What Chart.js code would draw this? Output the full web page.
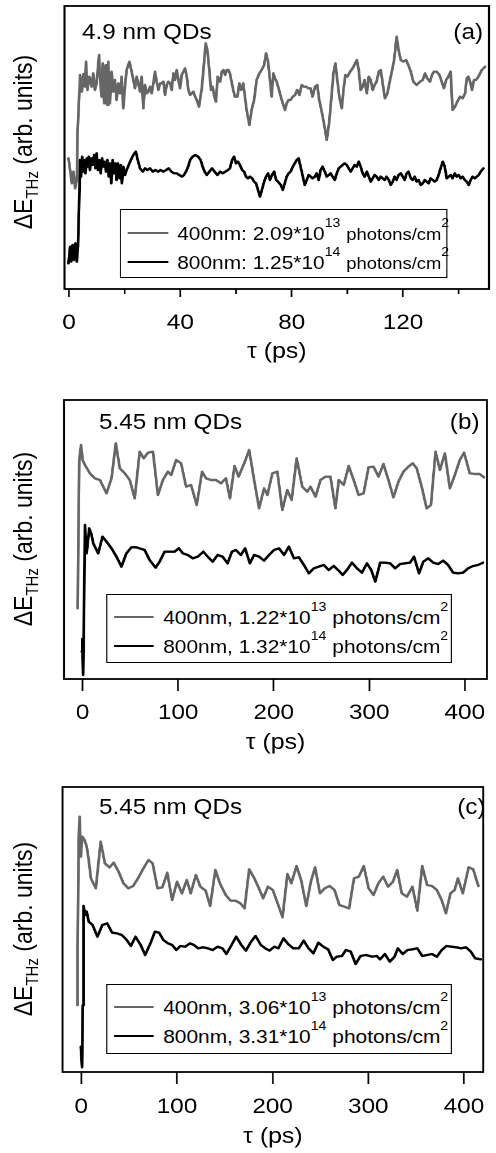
<!DOCTYPE html>
<html>
<head>
<meta charset="utf-8">
<script src="https://cdn.jsdelivr.net/npm/chart.js@4.4.1/dist/chart.umd.min.js"></script>
<style>
  html, body { margin: 0; padding: 0; background: #fff; overflow: hidden; }
  #page {
    position: absolute; left: 0; top: 0; width: 439px; height: 1153px;
    transform: scaleX(1.12984); transform-origin: 0 0;
    font-family: 'Liberation Sans', Arial, sans-serif; color: #000;
  }
  .panel { position: absolute; left: 0; width: 439px; }
  .panel canvas { position: absolute; left: 0; top: 0; }
  .tag { position: absolute; font-size: 21.5px; line-height: 21.5px; white-space: nowrap; }
  .ytitle {
    position: absolute; font-size: 23px; line-height: 23px; white-space: nowrap;
    transform: translate(-50%, -50%) rotate(-90deg);
  }
  .ytitle sub { font-size: 15px; vertical-align: baseline; position: relative; top: 5px; }
  .legend { position: absolute; box-sizing: border-box; border: 1.5px solid #000; background: #fff; }
  .legend .row { position: absolute; left: 0; right: 0; height: 30px; line-height: 30px; font-size: 18.5px; white-space: nowrap; }
  .legend .swatch { position: absolute; top: 13.8px; height: 0; border-top: 2.4px solid; }
  .legend .txt { position: absolute; top: 0; }
  .legend sup { font-size: 12.5px; vertical-align: baseline; position: relative; top: -13px; }
</style>
</head>
<body>
<div id="page">
  <div class="panel" style="top:0;height:370px"><canvas id="chartA" width="439" height="370"></canvas></div>
  <div class="panel" style="top:370px;height:390px"><canvas id="chartB" width="439" height="390"></canvas></div>
  <div class="panel" style="top:760px;height:393px"><canvas id="chartC" width="439" height="393"></canvas></div>
</div>
<script>
// ---- time axis (ps) and THz transient (arb. units), pairs of [tau, dE] ----
const pumpA400 = [[-0.2,39.2],[0.4,35.7],[1.0,31.7],[1.6,35.2],[2.2,30.2],[2.8,32.7],[3.1,47.7],[4.0,64.2],[4.6,59.2],[5.2,64.5],[5.8,60.7],[6.1,68.2],[6.6,59.7],[7.3,63.7],[8.1,60.7],[8.7,64.7],[9.3,59.7],[9.9,61.7],[10.8,70.2],[11.1,63.7],[11.7,57.7],[12.1,67.7],[12.6,55.7],[12.9,66.7],[13.3,67.2],[13.8,55.2],[14.1,68.2],[14.7,55.7],[15.3,65.2],[15.9,59.2],[16.5,62.7],[17.1,56.7],[17.7,61.7],[18.3,58.7],[18.9,63.7],[19.5,54.2],[20.1,60.7],[20.7,65.7],[21.7,68.2],[22.5,65.2],[23.1,62.7],[23.7,60.2],[24.3,63.7],[24.9,61.7],[25.5,59.2],[26.1,63.7],[26.7,54.2],[27.3,61.2],[27.9,58.7],[28.5,59.2],[29.1,60.7],[29.7,58.7],[30.3,61.7],[30.9,65.2],[31.5,62.2],[32.1,59.7],[32.7,61.7],[33.3,61.7],[33.9,62.2],[34.5,58.2],[35.1,61.2],[35.7,62.2],[36.3,61.7],[36.9,59.7],[37.5,64.7],[38.1,62.7],[38.7,65.7],[39.3,62.7],[39.9,60.2],[40.5,64.2],[41.1,65.2],[41.7,66.2],[42.3,63.7],[42.9,59.7],[43.5,58.2],[44.1,58.7],[44.7,59.2],[45.3,57.7],[45.9,56.7],[46.7,54.7],[47.7,60.2],[48.5,67.7],[49.1,73.7],[49.7,71.7],[50.4,65.7],[51.0,59.7],[51.6,60.7],[52.2,57.7],[52.8,56.2],[53.4,63.7],[54.3,62.2],[54.9,65.2],[55.5,65.7],[56.1,64.2],[56.7,65.7],[57.3,65.7],[57.8,64.7],[58.4,62.2],[59.0,59.7],[59.6,57.7],[60.5,57.7],[61.2,61.7],[61.9,59.7],[62.6,61.7],[63.8,53.7],[64.8,49.2],[65.6,53.7],[66.5,56.7],[67.4,62.7],[68.4,64.7],[69.2,65.7],[70.1,67.2],[70.8,70.7],[71.5,68.2],[72.2,62.7],[72.8,57.7],[73.4,64.7],[74.0,63.2],[74.6,62.2],[75.3,60.2],[76.1,57.7],[76.8,55.7],[77.6,53.7],[78.2,55.7],[78.9,56.7],[79.6,56.7],[80.4,57.7],[81.2,58.2],[82.0,59.7],[82.8,58.2],[83.6,61.2],[84.4,60.7],[85.2,60.7],[86.0,60.2],[86.8,60.2],[87.5,57.7],[88.4,60.7],[89.2,61.2],[89.9,56.7],[90.8,53.2],[91.6,49.7],[92.6,44.7],[93.5,50.2],[94.3,57.7],[95.0,64.7],[95.7,67.7],[96.4,62.7],[97.1,57.7],[98.0,54.2],[98.6,59.7],[99.3,64.2],[100.0,63.7],[101.0,65.2],[101.9,66.2],[102.8,67.7],[103.4,68.7],[104.1,65.7],[104.8,59.7],[105.5,60.7],[106.2,62.7],[107.0,58.7],[107.7,63.7],[108.4,62.7],[109.1,59.7],[109.8,61.2],[110.5,62.2],[111.3,65.2],[112.0,65.7],[112.7,61.7],[113.5,57.2],[114.4,58.7],[115.1,61.7],[116.1,65.7],[116.8,68.7],[117.7,75.7],[118.4,71.7],[119.2,68.7],[120.1,68.2],[121.1,68.7],[121.9,67.2],[122.8,65.2],[123.7,62.2],[124.9,61.2],[126.1,62.2],[127.1,62.7],[127.9,64.7],[128.7,63.2],[129.7,62.2],[130.4,64.2],[131.1,65.2],[132.1,65.2],[133.1,64.2],[133.9,62.2],[134.7,60.2],[135.5,62.7],[136.3,63.7],[137.1,65.2],[137.8,53.7],[138.7,54.7],[139.5,56.2],[140.5,57.7],[141.4,57.2],[142.3,58.7],[142.9,63.2],[143.5,63.7],[144.1,62.2],[144.8,59.7],[145.5,62.7],[146.2,62.7],[147.1,63.7],[148.3,65.7],[149.5,66.7]];

const pumpA800 = [[-0.2,7.7],[0.4,12.7],[0.8,8.2],[1.3,13.2],[1.8,8.7],[2.3,13.7],[2.8,8.2],[3.2,12.7],[3.6,24.7],[4.0,38.7],[4.3,33.7],[4.7,39.7],[5.0,35.2],[5.4,38.7],[5.9,34.7],[6.4,39.2],[6.7,36.7],[7.1,39.7],[7.5,35.7],[8.0,39.2],[8.5,37.2],[9.0,40.2],[9.5,36.2],[9.9,40.7],[10.4,35.7],[10.9,38.7],[11.4,34.7],[11.9,39.2],[12.3,36.7],[12.8,38.2],[13.3,35.2],[13.8,38.7],[14.3,33.7],[14.7,37.7],[15.2,31.7],[15.7,38.7],[16.2,34.7],[16.7,37.7],[17.1,32.7],[17.6,37.7],[18.1,33.2],[18.6,37.2],[19.0,31.7],[19.5,36.7],[20.1,34.2],[20.7,35.7],[21.7,37.7],[22.5,39.2],[23.1,40.2],[24.0,41.2],[24.7,38.7],[25.5,36.2],[26.5,35.2],[27.3,36.2],[28.1,35.7],[29.1,36.2],[30.1,35.2],[31.0,35.7],[32.0,35.2],[32.9,35.7],[33.9,35.2],[34.9,35.7],[35.8,36.2],[36.8,35.2],[37.7,34.7],[38.7,34.7],[39.6,34.2],[40.6,33.7],[41.3,34.2],[42.0,35.2],[42.8,36.7],[43.5,38.7],[44.4,39.7],[45.4,40.2],[46.4,39.7],[47.3,38.7],[48.0,36.7],[48.7,35.2],[49.5,34.2],[50.4,35.2],[51.4,36.2],[52.3,35.2],[53.3,34.2],[54.3,35.2],[55.2,34.7],[56.2,35.2],[57.1,35.7],[57.8,36.2],[58.6,38.7],[59.3,39.7],[60.0,37.7],[60.7,38.2],[61.4,37.2],[62.2,35.7],[62.9,35.2],[63.6,33.7],[64.3,33.2],[65.0,33.7],[65.8,33.2],[66.5,32.2],[67.2,31.7],[67.9,29.7],[68.6,27.7],[69.3,29.7],[70.1,32.2],[70.8,33.7],[71.5,34.7],[72.2,32.7],[72.9,34.2],[73.7,35.2],[74.4,32.7],[75.1,32.2],[76.1,31.2],[76.8,29.7],[77.5,31.7],[78.2,33.7],[78.9,34.7],[79.6,35.2],[80.4,36.7],[81.1,37.7],[81.8,38.7],[82.5,39.2],[83.2,36.7],[84.0,33.7],[84.7,31.2],[85.4,32.7],[86.1,34.2],[86.8,33.7],[87.5,33.2],[88.3,33.7],[89.0,34.7],[89.7,32.7],[90.4,35.7],[91.1,36.7],[91.9,35.2],[92.6,33.7],[93.3,34.2],[94.0,34.7],[94.7,33.7],[95.5,32.7],[96.2,34.7],[96.9,36.2],[97.6,36.7],[98.3,37.2],[99.0,37.7],[99.8,37.2],[100.5,36.2],[101.2,35.2],[101.9,36.2],[102.6,37.2],[103.4,36.7],[104.1,38.2],[104.8,36.7],[105.5,34.7],[106.2,33.7],[107.0,35.2],[107.7,33.7],[108.4,32.2],[109.1,33.2],[109.8,34.2],[110.5,33.7],[111.3,32.7],[112.0,33.7],[112.7,33.2],[113.4,32.7],[114.1,33.7],[114.9,32.7],[115.6,31.2],[116.3,32.2],[117.0,33.7],[117.7,32.7],[118.4,34.2],[119.2,34.7],[119.9,33.7],[120.6,32.7],[121.3,34.7],[122.0,35.2],[122.8,33.2],[123.5,32.7],[124.2,33.7],[124.9,32.2],[125.6,32.7],[126.4,31.2],[127.1,31.7],[127.8,32.7],[128.5,32.2],[129.2,31.7],[129.9,33.2],[130.7,32.7],[131.4,32.2],[132.1,32.7],[132.8,34.2],[133.5,36.2],[134.3,38.2],[135.0,36.7],[135.7,33.2],[136.4,33.7],[137.1,34.2],[137.8,33.2],[138.6,34.7],[139.3,33.7],[140.0,34.2],[140.7,33.2],[141.4,33.7],[142.2,32.7],[142.9,32.2],[143.6,31.2],[144.3,32.7],[145.0,33.7],[145.8,33.2],[146.5,33.7],[147.2,34.2],[147.9,35.2],[148.9,36.2]];

const pumpB400 = [[-5.2,21.2],[-4.5,41.7],[-3.5,65.7],[-1.7,70.2],[0.0,65.7],[2.4,64.2],[7.6,61.7],[12.8,60.2],[18.1,59.7],[25.0,55.7],[30.2,60.2],[34.7,70.7],[38.9,63.2],[44.1,61.7],[49.3,59.7],[54.5,54.2],[59.7,68.2],[63.9,66.2],[68.4,67.9],[73.6,68.2],[78.8,55.2],[84.0,59.7],[89.2,62.2],[92.7,61.2],[97.9,65.7],[103.1,64.7],[108.3,57.7],[113.5,58.2],[119.4,52.2],[125.0,62.2],[129.2,60.2],[134.4,59.7],[139.6,59.7],[144.8,58.7],[150.0,60.2],[154.2,54.2],[159.0,63.9],[163.2,60.7],[169.1,64.7],[174.3,68.7],[179.5,59.7],[184.7,51.2],[189.9,57.2],[193.4,55.2],[198.6,61.7],[203.8,62.2],[209.0,50.7],[214.2,56.7],[218.8,53.7],[224.0,66.2],[229.9,57.7],[235.1,56.2],[238.5,57.7],[243.8,54.7],[249.0,59.7],[254.2,60.7],[259.4,60.7],[264.6,51.2],[268.1,59.7],[273.3,58.2],[278.5,63.9],[283.7,59.7],[288.9,55.2],[294.1,55.7],[299.3,63.5],[304.5,63.7],[309.7,60.7],[314.9,64.5],[320.1,59.7],[325.3,54.5],[330.6,59.2],[335.8,62.2],[341.0,63.7],[345.5,64.7],[349.7,63.2],[354.9,57.7],[360.1,51.2],[364.6,52.2],[369.4,68.2],[374.0,62.7],[379.2,67.7],[384.4,57.2],[389.6,61.2],[394.8,65.7],[399.3,67.9],[405.2,61.7],[410.4,61.5],[415.6,61.5],[420.1,60.5]];

const pumpB800 = [[-1.0,8.2],[-0.5,12.0],[0.5,1.2],[1.4,20.0],[2.4,46.2],[4.2,37.7],[6.9,45.2],[9.4,43.2],[11.1,40.7],[16.3,37.7],[20.8,42.7],[25.0,41.2],[30.2,39.2],[35.4,36.7],[40.6,33.7],[45.8,37.7],[51.0,39.5],[56.3,39.5],[64.9,38.7],[70.1,35.7],[76.4,33.4],[80.6,35.2],[85.8,38.2],[91.0,38.2],[96.2,38.2],[100.7,39.2],[104.9,37.7],[110.1,37.2],[115.3,36.2],[120.5,36.7],[126.4,38.2],[130.9,36.7],[136.1,35.2],[141.3,37.2],[146.5,36.7],[151.7,34.7],[156.3,38.2],[160.4,38.7],[165.6,37.2],[170.1,39.2],[175.0,34.7],[179.5,37.2],[184.7,36.7],[189.9,35.5],[195.1,37.2],[200.3,38.7],[205.6,39.2],[210.8,37.2],[215.9,39.7],[221.2,36.2],[226.4,36.5],[231.6,34.2],[236.8,31.7],[242.0,33.2],[247.2,33.7],[252.4,34.2],[257.6,32.7],[262.8,33.9],[268.1,32.5],[272.2,31.2],[276.7,32.7],[281.9,34.9],[287.2,33.2],[292.4,31.9],[297.6,34.7],[302.1,32.7],[306.3,29.2],[311.5,34.9],[316.7,34.9],[321.9,34.7],[327.1,33.2],[332.3,34.5],[337.5,34.7],[342.7,34.9],[346.9,36.7],[352.1,31.7],[356.6,35.2],[361.8,36.2],[367.0,34.9],[372.2,34.5],[377.4,35.5],[382.6,34.2],[387.8,31.9],[393.1,31.7],[398.3,31.9],[403.5,33.2],[408.7,33.9],[413.9,34.2],[419.1,34.9]];

const pumpC400 = [[-4.1,20.1],[-3.8,37.6],[-2.7,69.6],[-1.7,76.6],[-0.4,64.6],[1.0,70.6],[3.4,69.6],[5.7,67.6],[7.8,63.6],[10.1,58.1],[15.2,55.1],[20.3,69.1],[24.7,62.6],[29.5,61.4],[33.9,62.8],[39.0,60.1],[44.1,56.6],[49.2,55.1],[54.3,55.8],[59.3,58.1],[64.4,60.8],[70.2,63.6],[74.6,62.6],[79.7,55.1],[84.8,55.4],[89.9,59.8],[95.0,51.6],[100.1,57.1],[105.2,53.6],[110.3,57.6],[114.4,53.6],[119.8,59.1],[124.5,55.6],[130.0,54.4],[134.7,49.8],[140.2,60.6],[144.9,56.6],[151.0,53.1],[156.1,51.4],[161.2,51.4],[166.3,50.6],[170.7,49.1],[175.5,60.8],[180.9,58.1],[185.7,55.1],[190.1,52.1],[195.1,55.6],[200.2,54.6],[205.3,50.6],[210.4,46.4],[215.5,59.4],[219.6,56.6],[225.0,61.8],[229.8,57.6],[235.2,49.8],[240.0,57.1],[244.4,61.4],[249.5,53.6],[254.5,55.1],[259.6,55.8],[264.7,54.6],[269.8,50.1],[274.9,49.6],[280.0,49.1],[285.1,58.1],[290.2,58.6],[295.3,61.8],[300.4,55.1],[305.5,53.1],[310.6,56.6],[315.6,58.6],[320.7,55.6],[325.8,57.1],[330.2,60.6],[335.0,53.6],[340.4,52.6],[346.2,55.6],[351.3,48.4],[356.4,61.8],[361.5,56.1],[366.6,55.8],[371.7,54.6],[376.7,51.6],[381.2,47.6],[385.9,53.6],[390.3,54.6],[393.7,58.1],[398.8,53.6],[404.9,61.4],[409.7,60.8],[415.1,55.8]];

const pumpC800 = [[-0.5,7.6],[0.8,1.4],[1.6,20.0],[2.3,49.8],[4.4,47.1],[5.7,48.1],[7.8,45.1],[11.8,44.1],[16.9,40.6],[22.0,44.1],[27.1,44.6],[32.2,41.8],[37.3,41.6],[42.4,41.1],[47.5,39.6],[51.9,37.8],[56.7,40.6],[62.1,38.1],[66.8,35.1],[72.3,38.6],[77.0,42.1],[81.4,41.8],[85.8,39.6],[90.6,38.6],[95.0,38.1],[99.4,36.6],[103.5,37.8],[108.6,37.6],[113.7,38.6],[117.7,38.1],[122.2,37.1],[127.3,37.4],[132.3,37.1],[137.4,36.6],[142.5,37.6],[147.6,37.1],[151.7,35.4],[157.1,38.1],[161.9,40.6],[167.3,38.1],[172.1,36.4],[177.5,39.1],[182.2,40.8],[187.7,38.1],[192.4,37.1],[196.8,36.4],[201.9,37.6],[206.0,37.1],[211.4,40.1],[216.2,38.4],[221.6,37.1],[227.4,37.1],[232.5,39.4],[237.6,37.1],[242.7,35.6],[247.8,38.8],[252.9,37.6],[258.0,36.8],[263.0,33.6],[267.1,34.6],[272.5,34.8],[276.6,36.6],[281.7,36.1],[286.8,32.4],[291.9,34.8],[297.7,35.1],[303.8,34.6],[308.9,34.8],[312.3,33.8],[317.4,35.4],[322.5,33.1],[327.5,34.6],[330.9,37.1],[336.0,35.4],[341.1,36.6],[346.2,36.8],[351.3,37.1],[356.4,34.8],[361.5,35.1],[366.6,35.4],[371.7,34.6],[376.8,36.6],[381.8,37.8],[386.9,37.6],[392.0,37.4],[397.1,37.1],[402.2,37.4],[407.3,36.1],[411.7,34.1],[417.5,33.8]];

// ---- axis ranges and labels ----
const tauRangeA = [-1.62, 150.9], tauRangeB = [-19.5, 423.2], tauRangeC = [-19.6, 420.2];
const sigRangeA = [0, 84.9], sigRangeB = [0, 83.7], sigRangeC = [0, 85.5];
const tickStepA = 40, tickStepB = 100, tickStepC = 100;
const samples = ['4.9 nm QDs', '5.45 nm QDs', '5.45 nm QDs'];
const panelTags = ['(a)', '(b)', '(c)'];
const legendTextA = ['400nm: 2.09*10', '800nm: 1.25*10'];
const legendTextB = ['400nm, 1.22*10', '800nm, 1.32*10'];
const legendTextC = ['400nm, 3.06*10', '800nm, 3.31*10'];
const legendPowA = ['13', '14'], legendPowB = ['13', '14'], legendPowC = ['13', '14'];

const GRAY = '#666666', BLACK = '#000000';
const FONT = "'Liberation Sans', Arial, sans-serif";

// outer frame of the plot area plus optional short minor ticks
const framePlugin = {
  id: 'frame',
  afterDraw(chart, args, opts) {
    const { ctx, chartArea: a } = chart;
    ctx.save();
    ctx.strokeStyle = '#000';
    ctx.lineWidth = 1.8;
    ctx.strokeRect(a.left, a.top, a.right - a.left, a.bottom - a.top);
    if (opts.minorStep) {
      const xs = chart.scales.x;
      ctx.lineWidth = 1.5;
      ctx.beginPath();
      for (let k = Math.ceil(xs.min / opts.minorStep); k * opts.minorStep <= xs.max; k++) {
        if (k % 2 === 0) continue;
        const px = xs.getPixelForValue(k * opts.minorStep);
        ctx.moveTo(px, a.bottom);
        ctx.lineTo(px, a.bottom + 5);
      }
      ctx.stroke();
    }
    ctx.restore();
  }
};

function makeChart(id, cfg) {
  return new Chart(document.getElementById(id), {
    type: 'scatter',
    data: {
      datasets: [
        { label: cfg.legendText[0], data: cfg.s400, borderColor: GRAY, showLine: true, order: 1 },
        { label: cfg.legendText[1], data: cfg.s800, borderColor: BLACK, showLine: true, order: 0 }
      ]
    },
    options: {
      responsive: false,
      animation: false,
      devicePixelRatio: 2,
      layout: { padding: { top: cfg.padTop, right: cfg.padRight, left: 0, bottom: 0 } },
      elements: {
        point: { radius: 0, hoverRadius: 0 },
        line: { borderWidth: 2.4, tension: 0, borderJoinStyle: 'round', borderCapStyle: 'round' }
      },
      plugins: {
        legend: { display: false },
        tooltip: { enabled: false },
        frame: { minorStep: cfg.minorStep || 0 }
      },
      scales: {
        x: {
          type: 'linear',
          min: cfg.tauRange[0], max: cfg.tauRange[1],
          afterFit: s => { s.height = 81; },
          border: { display: false },
          grid: { drawOnChartArea: false, drawTicks: true, tickLength: cfg.tickLen, tickWidth: 1.5, tickColor: '#000', color: '#000' },
          ticks: {
            stepSize: cfg.tickStep, includeBounds: false, autoSkip: false, maxRotation: 0,
            padding: cfg.tickPad, color: '#000', font: { family: FONT, size: 21.5 }
          },
          title: {
            display: true, text: 'τ (ps)', color: '#000',
            font: { family: FONT, size: 22 }, padding: { top: 0, bottom: cfg.titlePad }
          }
        },
        y: {
          min: cfg.sigRange[0], max: cfg.sigRange[1],
          afterFit: s => { s.width = cfg.yWidth; },
          ticks: { display: false },
          grid: { display: false },
          border: { display: false }
        }
      }
    },
    plugins: [framePlugin]
  });
}

const charts = [
  makeChart('chartA', { s400: pumpA400, s800: pumpA800, tauRange: tauRangeA, sigRange: sigRangeA, tickStep: tickStepA,
    minorStep: tickStepA / 2, tickLen: 8, tickPad: 13.4, titlePad: 4.8, padTop: 6, padRight: 6.2, yWidth: 57.09, legendText: legendTextA }),
  makeChart('chartB', { s400: pumpB400, s800: pumpB800, tauRange: tauRangeB, sigRange: sigRangeB, tickStep: tickStepB,
    tickLen: 12, tickPad: 9.4, titlePad: 3.8, padTop: 30, padRight: 6.2, yWidth: 56.65, legendText: legendTextB }),
  makeChart('chartC', { s400: pumpC400, s800: pumpC800, tauRange: tauRangeC, sigRange: sigRangeC, tickStep: tickStepC,
    tickLen: 12, tickPad: 10.4, titlePad: 2.8, padTop: 27, padRight: 1.5, yWidth: 55.32, legendText: legendTextC })
];

// ---- text overlays: sample label, panel tag, axis title, legend ----
const page = document.getElementById('page');
const overlay = [
  { labelLeft: 72.6, labelTop: 22.2, tagRight: 11.5, titleY: 142, legend: { left: 106.2, top: 209, width: 290.3, height: 69, rows: [25, 54], sw: 6.2, swW: 35.4, tx: 49.6 }, pow: legendPowA, unitSize: 16.3 },
  { labelLeft: 87.6, labelTop: 412.2, tagRight: 14.6, titleY: 538.5, legend: { left: 93.8, top: 594, width: 306.3, height: 69, rows: [24, 53], sw: 6.2, swW: 35.4, tx: 49.6 }, pow: legendPowB, unitSize: 18.5 },
  { labelLeft: 87.6, labelTop: 797.2, tagRight: 9.3, titleY: 928.5, legend: { left: 93.8, top: 984, width: 306.3, height: 70, rows: [24, 53], sw: 6.2, swW: 35.4, tx: 49.6 }, pow: legendPowC, unitSize: 18.5 }
];

function addEl(cls, html, style) {
  const d = document.createElement('div');
  d.className = cls;
  d.innerHTML = html;
  Object.assign(d.style, style);
  page.appendChild(d);
  return d;
}

charts.forEach((chart, i) => {
  const o = overlay[i];
  addEl('tag', samples[i], { left: o.labelLeft + 'px', top: o.labelTop + 'px' });
  addEl('tag', panelTags[i], { right: o.tagRight + 'px', top: o.labelTop + 'px' });
  addEl('ytitle', 'ΔE<sub>THz</sub> (arb. units)', { left: '22px', top: o.titleY + 'px' });

  const L = o.legend;
  const box = addEl('legend', '', { left: L.left + 'px', top: L.top + 'px', width: L.width + 'px', height: L.height + 'px' });
  chart.data.datasets.forEach((ds, k) => {
    const row = document.createElement('div');
    row.className = 'row';
    row.style.top = (L.rows[k] - 15 - 1.5) + 'px';
    row.innerHTML =
      `<span class="swatch" style="left:${L.sw}px;width:${L.swW}px;border-color:${ds.borderColor}"></span>` +
      `<span class="txt" style="left:${L.tx}px">${ds.label}<sup>${o.pow[k]}</sup> ` +
      `<span style="font-size:${o.unitSize}px">photons/cm</span><sup>2</sup></span>`;
    box.appendChild(row);
  });
});
</script>
</body>
</html>
